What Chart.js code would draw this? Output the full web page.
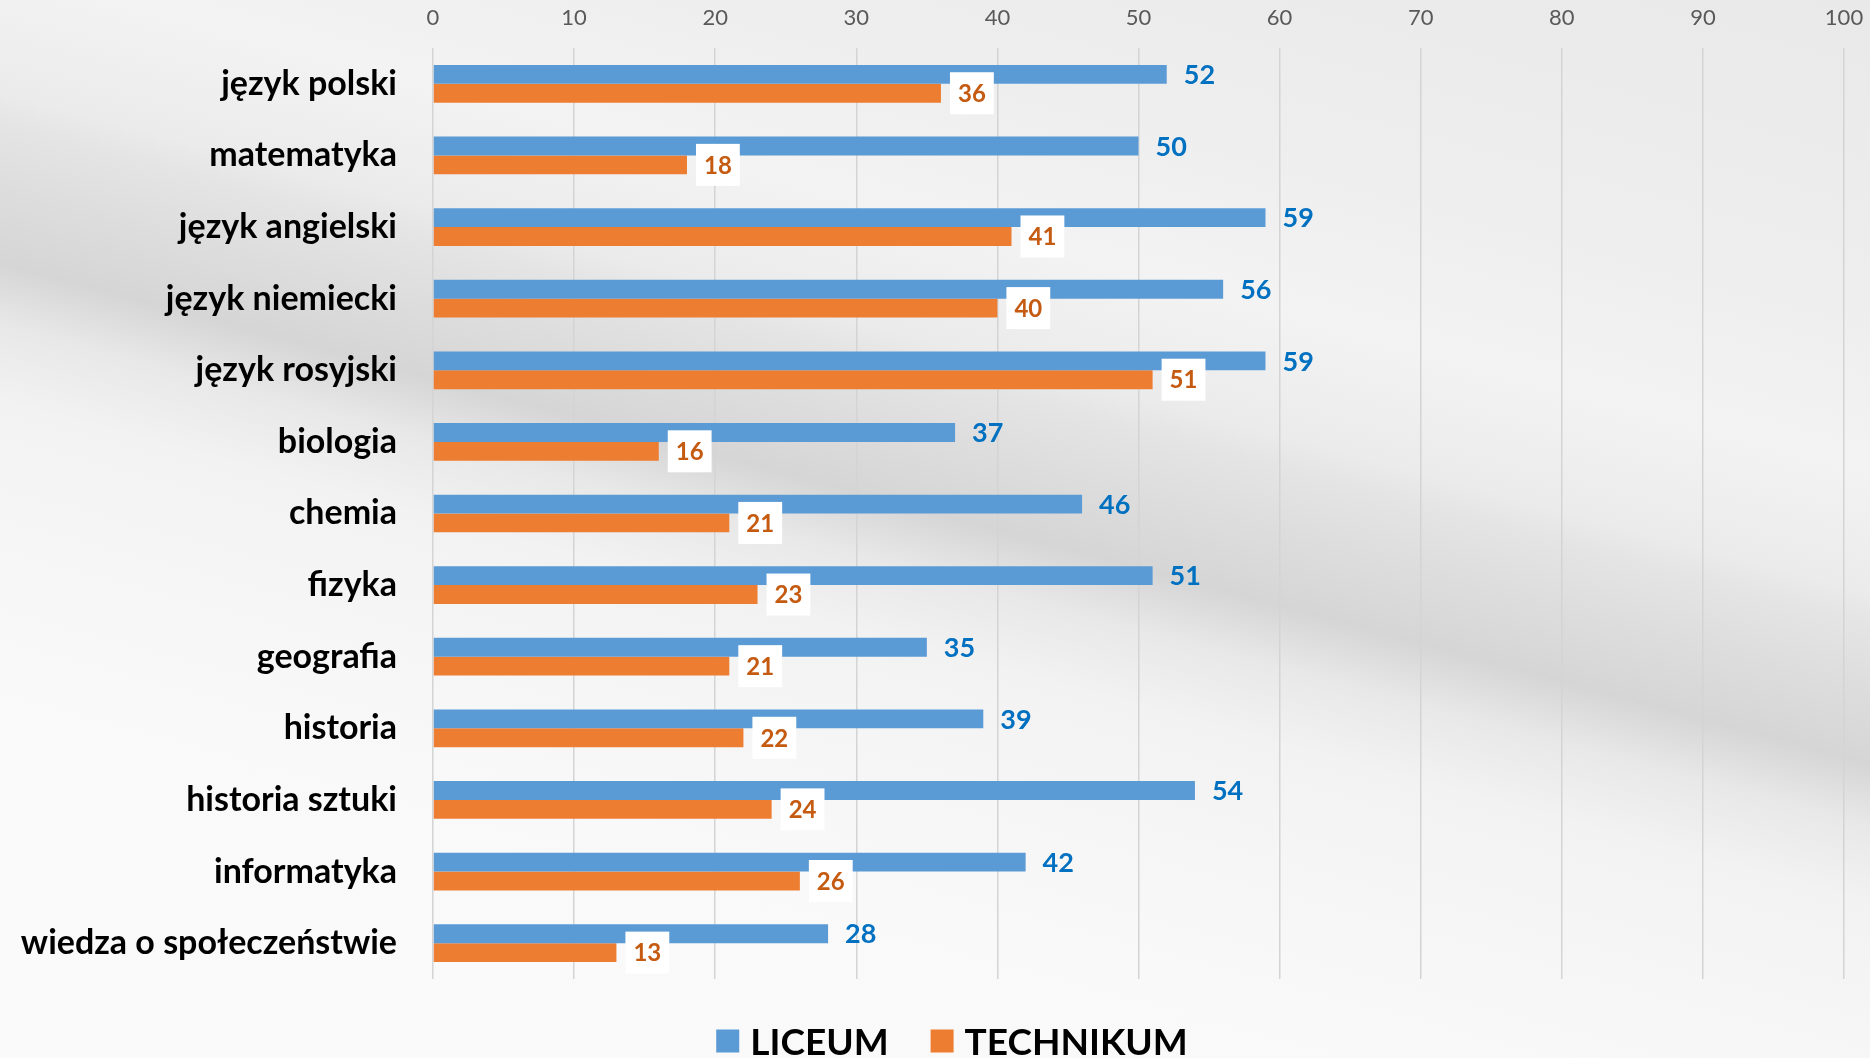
<!DOCTYPE html>
<html>
<head>
<meta charset="utf-8">
<script src="https://cdn.jsdelivr.net/npm/chart.js@4.4.1/dist/chart.umd.min.js"></script>
<style>
  html, body { margin: 0; padding: 0; }
  body {
    width: 1870px; height: 1058px; overflow: hidden;
    background:
      linear-gradient(195deg, rgba(0,0,0,0) 0%, rgba(0,0,0,0) 38%, rgba(0,0,0,0.06) 44%, rgba(0,0,0,0.10) 49%, rgba(0,0,0,0.03) 53%, rgba(0,0,0,0) 58%),
      linear-gradient(195deg, #e9e9e9 0%, #eeeeee 20%, #f3f3f3 30%, #e9e9e9 40%, #f4f4f4 62%, #f9f9f9 75%, #fafafa 100%);
  }
  #wrap { position: relative; width: 1870px; height: 1058px; }
</style>
</head>
<body>
<div id="wrap"><canvas id="chart" width="1870" height="1058"></canvas></div>
<script>
// dane z wykresu
const subjects = ['język polski', 'matematyka', 'język angielski', 'język niemiecki', 'język rosyjski',
  'biologia', 'chemia', 'fizyka', 'geografia', 'historia', 'historia sztuki', 'informatyka', 'wiedza o społeczeństwie'];
const liceum = [52, 50, 59, 56, 59, 37, 46, 51, 35, 39, 54, 42, 28];
const technikum = [36, 18, 41, 40, 51, 16, 21, 23, 21, 22, 24, 26, 13];
const axisMin = 0, axisMax = 100, axisStep = 10;

const FONT = 'Lato, "Open Sans", sans-serif';

// etykiety wartości przy słupkach
const valueLabels = {
  id: 'valueLabels',
  afterDatasetsDraw(chart) {
    const ctx = chart.ctx;
    chart.data.datasets.forEach((ds, i) => {
      const meta = chart.getDatasetMeta(i);
      meta.data.forEach((bar, j) => {
        const txt = String(ds.data[j]);
        ctx.save();
        ctx.textBaseline = 'middle';
        if (i === 0) {
          ctx.font = 'bold 27px ' + FONT;
          ctx.fillStyle = '#0070C0';
          ctx.fillText(txt, bar.x + 17, bar.y + 1);
        } else {
          ctx.font = 'bold 24px ' + FONT;
          const w = ctx.measureText(txt).width + 16;
          const bx = bar.x + 9;
          ctx.fillStyle = '#ffffff';
          ctx.fillRect(bx, bar.y - 21, w, 42);
          ctx.fillStyle = '#C55A11';
          ctx.fillText(txt, bx + 8, bar.y + 1);
        }
        ctx.restore();
      });
    });
  }
};

// legenda na dole
const bottomLegend = {
  id: 'bottomLegend',
  afterDraw(chart) {
    const ctx = chart.ctx;
    const items = chart.data.datasets;
    const box = 23, gap = 11, spacing = 42;
    ctx.save();
    ctx.font = 'bold 37px ' + FONT;
    ctx.textBaseline = 'middle';
    let total = 0;
    items.forEach((ds, i) => {
      total += box + gap + ctx.measureText(ds.label).width;
      if (i < items.length - 1) total += spacing;
    });
    let x = 952 - total / 2;
    const y = 1041;
    items.forEach(ds => {
      ctx.fillStyle = ds.backgroundColor;
      ctx.fillRect(x, y - box / 2, box, box);
      x += box + gap;
      ctx.fillStyle = '#000000';
      ctx.fillText(ds.label, x, y + 2);
      x += ctx.measureText(ds.label).width + spacing;
    });
    ctx.restore();
  }
};

new Chart(document.getElementById('chart'), {
  type: 'bar',
  data: {
    labels: subjects,
    datasets: [
      { label: 'LICEUM', data: liceum, backgroundColor: '#5B9BD5' },
      { label: 'TECHNIKUM', data: technikum, backgroundColor: '#ED7D31' }
    ]
  },
  options: {
    indexAxis: 'y',
    responsive: false,
    animation: false,
    layout: { padding: { top: 0, right: 26, bottom: 79, left: 0 } },
    datasets: { bar: { categoryPercentage: 0.527, barPercentage: 1.0 } },
    plugins: {
      legend: { display: false },
      tooltip: { enabled: false }
    },
    scales: {
      x: {
        position: 'top',
        min: axisMin,
        max: axisMax,
        ticks: { stepSize: axisStep, padding: 17, color: '#595959', font: { family: FONT, size: 22 } },
        grid: { color: '#d4d4d4', lineWidth: 1.5, drawTicks: false },
        border: { display: false },
        afterFit(scale) {
          scale.height = 48;
          scale.paddingLeft = 0;
          scale.paddingRight = 0;
        }
      },
      y: {
        ticks: { padding: 36, color: '#000000', font: { family: FONT, size: 34, weight: 'bold' } },
        grid: { display: false, drawTicks: false },
        border: { display: false },
        afterFit(scale) {
          scale.width = 433;
          scale.paddingTop = 0;
          scale.paddingBottom = 0;
        }
      }
    }
  },
  plugins: [valueLabels, bottomLegend]
});
</script>
</body>
</html>
